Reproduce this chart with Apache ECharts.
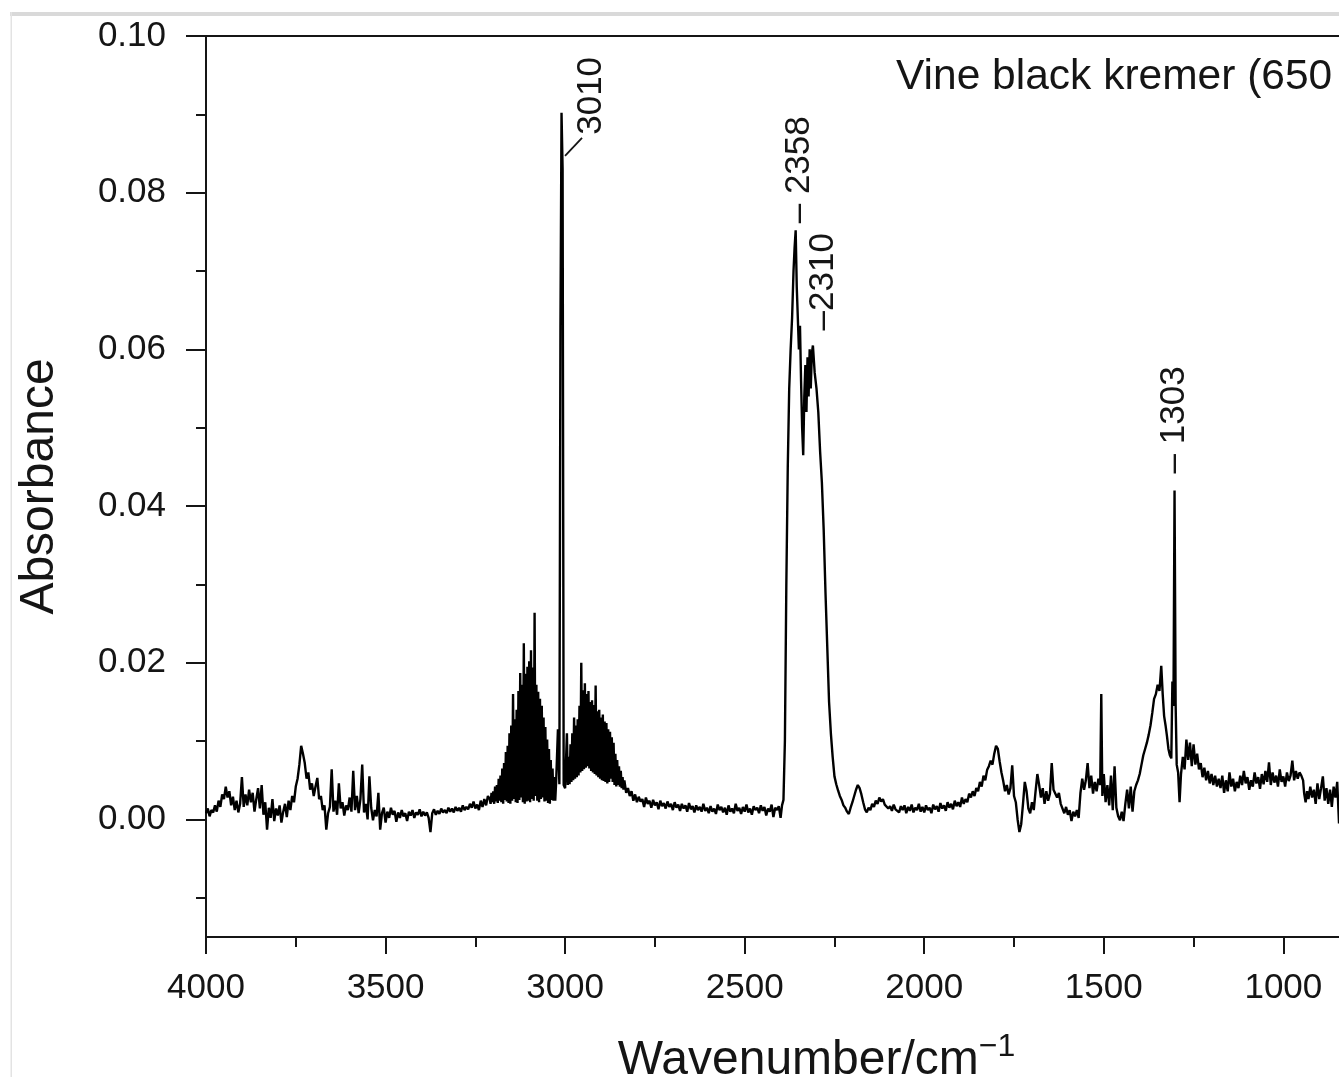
<!DOCTYPE html>
<html>
<head>
<meta charset="utf-8">
<script src="https://cdn.jsdelivr.net/npm/echarts@6/dist/echarts.min.js"></script>
<style>
  html, body { margin: 0; padding: 0; background: #fff; }
  #chart { width: 1339px; height: 1077px; }
</style>
</head>
<body>
<div id="chart"></div>
<script>
// FTIR absorbance spectrum. Each entry: [wavenumber / cm-1, absorbance in milli-absorbance units]

// O-H / water vapour region
const spectrumOH = [
  [4000,0.8],[3995,1.4],[3990,0.4],[3985,1.2],[3980,0.9],[3975,1.8],[3970,1.0],[3965,2.4],[3960,1.6],[3955,3.2],
  [3950,2.6],[3945,4.2],[3940,2.8],[3935,3.6],[3930,1.8],[3925,2.9],[3920,1.2],[3915,2.4],[3910,0.9],[3905,2.0],
  [3900,5.4],[3895,1.6],[3890,3.2],[3885,1.8],[3880,3.8],[3875,2.2],[3870,3.4],[3865,1.0],[3860,2.6],[3855,4.0],
  [3850,1.4],[3845,4.4],[3840,0.6],[3835,2.2],[3830,-1.3],[3825,1.5],[3820,0.2],[3815,2.6],[3810,-0.2],[3805,1.4],
  [3800,0.5],[3795,1.8],[3790,-0.4],[3785,1.0],[3780,2.0],[3775,0.3],[3770,2.4],[3765,1.2],[3760,3.0],[3755,2.2],
  [3750,4.2],[3745,5.2],[3740,7.0],[3735,9.4],[3730,8.4],[3725,7.2],[3720,5.2],[3715,6.0],[3710,3.8],[3705,4.6],
  [3700,3.0],[3695,4.2],[3690,5.3],[3685,2.6],[3680,3.0],[3675,1.2],[3670,1.8],[3665,-1.3],[3660,0.8],[3655,1.6],
  [3650,6.4],[3645,1.0],[3640,2.4],[3635,0.6],[3630,4.6],[3625,1.4],[3620,2.2],[3615,0.5],[3610,1.8],[3605,1.2],
  [3600,2.8],[3595,1.0],[3590,6.2],[3585,1.2],[3580,3.0],[3575,0.8],[3570,2.6],[3565,7.0],[3560,0.9],[3555,2.0],
  [3550,0.0],[3545,5.5],[3540,1.5],[3535,-0.1],[3530,1.2],[3525,0.4],[3520,3.4],[3515,-1.3],[3510,0.8],[3505,1.5],
  [3500,-0.4],[3495,1.0],[3490,0.2],[3485,1.5],[3480,0.6],[3475,1.1],[3470,-0.3],[3465,0.9],[3460,0.2],[3455,1.2],
  [3450,0.4],[3445,0.8],[3440,-0.2],[3435,1.0],[3430,0.5],[3425,1.2],[3420,0.2],[3415,0.9],[3410,0.6],[3405,1.3],
  [3400,0.4],[3395,1.0],[3390,0.5],[3385,0.9],[3380,0.2],[3375,-1.6],[3370,0.8],[3365,1.3],[3360,0.6],[3355,1.1],
  [3350,0.7],[3345,1.4],[3340,0.9],[3335,1.2],[3330,0.8],[3325,1.5],[3320,1.0],[3315,1.4],[3310,0.9],[3305,1.6],
  [3300,1.1],[3295,1.5],[3290,1.0],[3285,1.8],[3280,1.2],[3275,1.6],[3270,1.3],[3265,2.0],[3260,1.5],[3255,2.3],
  [3250,1.4],[3245,1.9],[3240,1.2],[3235,2.4],[3230,1.6],[3225,2.6],[3220,1.8],[3215,3.0]
];

// C-H stretching region (dense rotational lines) with the sharp 3010 band
const spectrumCH = [
  [3210,2.6],[3207.5,2.0],[3205,3.4],[3202.5,2.2],[3200,3.6],[3197.5,2.0],[3195,4.2],[3192.5,2.3],[3190,4.4],[3187.5,2.1],
  [3185,5.2],[3182.5,2.4],[3180,5.6],[3177.5,2.2],[3175,6.5],[3172.5,2.0],[3170,7.2],[3167.5,2.5],[3165,8.6],[3162.5,2.3],
  [3160,9.4],[3157.5,2.1],[3155,11.0],[3152.5,2.0],[3150,12.0],[3147.5,2.4],[3145,16.0],[3142.5,2.6],[3140,12.8],[3137.5,2.2],
  [3135,14.0],[3132.5,2.1],[3130,16.4],[3127.5,2.5],[3125,18.7],[3122.5,2.8],[3120,17.2],[3117.5,2.2],[3115,22.5],[3112.5,2.0],
  [3110,18.6],[3107.5,2.3],[3105,19.5],[3102.5,2.4],[3100,20.2],[3097.5,2.2],[3095,21.6],[3092.5,2.6],[3090,19.4],[3087.5,2.4],
  [3085,26.4],[3082.5,3.0],[3080,17.2],[3077.5,2.4],[3075,16.3],[3072.5,2.2],[3070,15.4],[3067.5,2.6],[3065,14.5],[3062.5,2.8],
  [3060,13.0],[3057.5,2.3],[3055,11.8],[3052.5,2.4],[3050,10.2],[3047.5,2.1],[3045,9.0],[3042.5,2.0],[3040,7.6],[3037.5,2.5],
  [3035,6.5],[3032.5,2.4],[3030,5.4],[3027.5,2.4],[3025,4.8],[3020,11.5],[3016,4.5],[3013,63.0],
  [3010,90.2],[3007,83.0],[3004,4.4],[3000,4.0],[2997.5,4.2],[2995,11.0],[2992.5,4.4],[2990,8.0],[2987.5,4.5],[2985,9.6],
  [2982.5,4.8],[2980,11.0],[2977.5,5.0],[2975,13.0],[2972.5,5.2],[2970,12.0],[2967.5,5.4],[2965,12.8],[2962.5,5.6],[2960,14.5],
  [2957.5,6.0],[2955,20.0],[2952.5,6.2],[2950,16.5],[2947.5,6.4],[2945,17.4],[2942.5,6.6],[2940,16.0],[2937.5,6.8],[2935,16.4],
  [2932.5,6.5],[2930,15.0],[2927.5,6.2],[2925,15.2],[2922.5,6.0],[2920,14.6],[2917.5,5.8],[2915,17.1],[2912.5,5.6],[2910,13.8],
  [2907.5,5.4],[2905,14.0],[2902.5,5.2],[2900,13.0],[2897.5,5.0],[2895,13.4],[2892.5,4.9],[2890,12.5],[2887.5,4.8],[2885,12.3],
  [2882.5,4.6],[2880,11.5],[2877.5,4.8],[2875,11.2],[2872.5,5.2],[2870,10.5],[2867.5,4.8],[2865,9.8],[2862.5,4.4],[2860,8.4],
  [2857.5,4.2],[2855,7.6],[2852.5,4.4],[2850,6.8],[2847.5,4.2],[2845,6.2],[2842.5,4.0],[2840,5.4],[2837.5,3.8],[2835,5.0],
  [2830,3.4],[2825,4.0],[2820,3.0],[2815,3.6],[2810,2.4],[2805,3.2],[2800,2.2],[2795,2.9],[2790,2.3],[2785,2.6],
  [2780,1.6],[2775,2.8],[2770,2.0],[2765,2.4],[2760,1.5]
];

// flat stretch between the C-H and CO2 bands
const spectrumMid = [
  [2755,2.5],[2750,1.8],[2745,2.2],[2740,1.3],[2735,2.4],[2730,1.7],[2725,2.1],[2720,1.4],[2715,2.3],[2710,1.6],
  [2705,2.0],[2700,1.2],[2695,2.2],[2690,1.5],[2685,1.9],[2680,1.1],[2675,2.0],[2670,1.4],[2665,1.8],[2660,1.0],
  [2655,2.1],[2650,1.3],[2645,1.7],[2640,0.9],[2635,1.8],[2630,1.2],[2625,1.6],[2620,1.0],[2615,2.0],[2610,1.1],
  [2605,1.5],[2600,0.8],[2595,1.7],[2590,1.0],[2585,1.4],[2580,0.7],[2575,1.9],[2570,1.2],[2565,1.6],[2560,0.9],
  [2555,1.5],[2550,0.6],[2545,1.8],[2540,1.0],[2535,1.4],[2530,0.8],[2525,2.0],[2520,1.1],[2515,1.5],[2510,0.7],
  [2505,1.6],[2500,1.0],[2495,1.9],[2490,0.9],[2485,1.4],[2480,0.6],[2475,1.7],[2470,1.2],[2465,1.5],[2460,0.8],
  [2455,1.8],[2450,1.1],[2445,1.6],[2440,0.5],[2435,1.4],[2430,1.0],[2425,1.9],[2420,0.3],[2415,1.5],[2410,1.2],
  [2405,1.7],[2400,0.2],[2396,1.8]
];

// CO2 doublet
const spectrumCO2 = [
  [2392,2.5],[2388,10.0],[2384,30.0],[2380,45.0],[2376,55.0],[2372,60.0],[2368,64.0],[2364,70.0],[2361,73.0],[2358,75.2],
  [2355,68.0],[2352,64.0],[2349,60.0],[2346,63.0],[2343,56.0],[2340,50.0],[2337,46.5],[2334,54.0],[2331,58.0],[2328,52.0],
  [2325,59.0],[2322,54.0],[2319,60.0],[2316,55.0],[2313,59.5],[2310,60.5],[2305,57.0],[2300,55.0],[2295,52.0],[2290,47.0],
  [2285,43.0],[2280,37.0],[2275,29.0],[2270,22.0],[2265,15.0],[2260,11.0],[2255,8.0],[2250,5.5],[2245,4.5],[2240,3.7],
  [2235,3.0],[2230,2.5],[2225,1.8],[2220,1.5]
];

// 2215 - 1820
const spectrumLow = [
  [2215,1.0],[2210,0.7],[2205,1.5],[2200,2.2],[2195,3.0],[2190,3.8],[2185,4.4],[2180,4.0],[2175,3.2],[2170,2.2],
  [2165,1.3],[2160,0.9],[2155,1.5],[2150,1.2],[2145,2.0],[2140,1.6],[2135,2.4],[2130,2.0],[2125,2.8],[2120,2.3],
  [2115,2.6],[2110,1.9],[2105,2.1],[2100,1.4],[2095,1.7],[2090,1.1],[2085,1.9],[2080,1.3],[2075,1.5],[2070,0.9],
  [2065,1.7],[2060,1.2],[2055,1.8],[2050,0.8],[2045,1.6],[2040,1.1],[2035,1.9],[2030,0.9],[2025,1.5],[2020,1.2],
  [2015,2.0],[2010,1.0],[2005,1.6],[2000,0.9],[1995,1.8],[1990,1.2],[1985,1.5],[1980,0.8],[1975,1.9],[1970,1.3],
  [1965,1.7],[1960,1.0],[1955,2.1],[1950,1.4],[1945,1.8],[1940,1.1],[1935,2.2],[1930,1.5],[1925,2.0],[1920,1.3],
  [1915,2.4],[1910,1.7],[1905,2.2],[1900,1.6],[1895,2.8],[1890,2.0],[1885,2.6],[1880,2.2],[1875,3.3],[1870,2.8],
  [1865,3.6],[1860,3.0],[1855,4.0],[1850,3.6],[1845,4.8],[1840,4.2],[1835,5.6],[1830,5.0],[1825,6.3],[1820,6.8]
];

// fingerprint region
const spectrumFinger = [
  [1815,7.5],[1810,7.0],[1805,8.4],[1800,9.4],[1795,9.0],[1790,7.4],[1785,6.0],[1780,4.9],[1775,3.6],[1770,4.4],
  [1765,3.2],[1760,4.0],[1755,6.9],[1750,3.0],[1745,2.2],[1740,0.0],[1735,-1.6],[1730,-0.6],[1725,2.0],[1720,4.8],
  [1715,3.6],[1710,1.4],[1705,0.8],[1700,2.2],[1695,1.2],[1690,3.6],[1685,5.8],[1680,4.4],[1675,2.8],[1670,4.0],
  [1665,2.0],[1660,3.6],[1655,2.4],[1650,3.3],[1645,7.2],[1640,3.8],[1635,4.0],[1630,2.8],[1625,3.4],[1620,2.0],
  [1615,2.2],[1610,0.8],[1605,1.6],[1600,0.6],[1595,1.2],[1590,-0.2],[1585,1.0],[1580,0.4],[1575,1.2],[1570,0.2],
  [1565,3.4],[1560,5.2],[1555,3.8],[1550,5.0],[1545,7.2],[1540,4.0],[1535,5.6],[1530,3.3],[1525,4.8],[1520,3.6],
  [1515,5.2],[1510,4.4],[1507,16.0],[1504,3.0],[1500,5.8],[1495,2.2],[1490,4.4],[1485,1.8],[1480,5.6],[1475,1.2],
  [1470,6.8],[1465,1.5],[1460,0.4],[1455,-0.1],[1450,1.0],[1445,-0.2],[1440,2.0],[1435,3.8],[1430,1.4],[1425,4.2],
  [1420,1.0],[1415,3.6],[1410,4.4],[1405,5.0],[1400,5.8],[1395,7.0],[1390,8.2],[1385,9.0],[1380,9.8],[1375,10.8],
  [1370,12.0],[1365,13.6],[1360,15.4],[1355,16.0],[1350,17.2],[1345,16.4],[1340,19.6],[1336,16.0],[1332,13.2],[1328,12.0],
  [1324,10.6],[1320,9.0],[1316,8.2],[1312,7.8],[1309,17.6],[1306,14.5],[1303,42.0],[1300,14.8],[1297,7.0],[1293,6.0],
  [1289,2.2],[1285,5.8],[1280,8.0],[1275,6.4],[1270,10.2],[1265,7.6],[1260,9.8],[1255,6.8],[1250,9.6],[1245,7.0],
  [1240,8.4],[1235,6.4],[1230,7.2],[1225,5.4],[1220,6.6],[1215,5.0],[1210,6.2],[1205,4.6],[1200,5.8],[1195,4.4],
  [1190,5.6],[1185,4.2],[1180,5.2],[1175,4.0],[1170,5.6],[1165,3.4],[1160,5.0],[1155,3.6],[1150,6.0],[1145,4.2],
  [1140,5.2],[1135,3.6],[1130,4.8],[1125,4.0],[1120,5.6],[1115,4.4],[1110,6.2],[1105,4.6],[1100,5.4],[1095,3.8],
  [1090,5.0],[1085,4.2],[1080,6.0],[1075,4.6],[1070,5.4],[1065,3.9],[1060,5.8],[1055,4.5],[1050,6.2],[1045,4.8],
  [1040,7.3],[1035,4.4],[1030,6.0],[1025,4.7],[1020,5.6],[1015,4.2],[1010,6.4],[1005,4.8],[1000,5.5],[995,4.2],
  [990,6.0],[985,4.9],[980,5.6],[975,7.5],[970,5.0],[965,6.2],[960,5.2],[955,6.0],[950,5.6],[945,5.0],
  [942,3.3],[938,2.2],[934,3.6],[930,2.6],[925,4.2],[920,2.8],[915,3.8],[910,2.0],[905,4.6],[900,2.6],
  [895,4.0],[890,5.5],[885,2.4],[880,4.0],[875,2.0],[870,3.8],[865,1.6],[860,4.2],[855,2.8],[850,4.8],
  [845,-0.5],[840,3.6],[835,2.6],[830,3.4]
];

// annotated band positions (cm-1)
const peakWavenumbers = [3010, 2358, 2310, 1303];

// axis ticks
const xTickValues = [4000, 3500, 3000, 2500, 2000, 1500, 1000];
const xMinorTickValues = [3750, 3250, 2750, 2250, 1750, 1250, 750];
const yTickValues = [0, 0.02, 0.04, 0.06, 0.08, 0.10];
const yMinorTickValues = [-0.01, 0.01, 0.03, 0.05, 0.07, 0.09];

const sampleName = 'Vine black kremer (650 °C)';

// ---------------------------------------------------------------------------
const FONT = '"Liberation Sans", Arial, Helvetica, sans-serif';
const INK = '#151515';
const X_MIN = 600, X_MAX = 4000, Y_MIN = -0.015, Y_MAX = 0.10;

const spectrum = [].concat(spectrumOH, spectrumCH, spectrumMid, spectrumCO2, spectrumLow, spectrumFinger)
  .map(([wn, mAbs]) => [wn, mAbs / 1000]);

const chart = echarts.init(document.getElementById('chart'), null, { renderer: 'canvas', width: 1339, height: 1077 });

const tickLine = { color: INK, width: 2 };

chart.setOption({
  animation: false,
  backgroundColor: '#ffffff',
  grid: {
    left: 206, top: 36, width: 1221, height: 901,
    show: true, borderColor: INK, borderWidth: 2, backgroundColor: 'transparent',
    outerBoundsMode: 'none', containLabel: false
  },
  xAxis: [
    {
      type: 'value', min: X_MIN, max: X_MAX, inverse: true, position: 'bottom',
      axisLine: { show: true, onZero: false, lineStyle: tickLine },
      axisTick: { show: true, inside: false, length: 17, customValues: xTickValues, lineStyle: tickLine },
      axisLabel: {
        customValues: xTickValues, margin: 34, fontSize: 35, color: INK, fontFamily: FONT,
        formatter: v => String(v)
      },
      splitLine: { show: false },
      name: 'Wavenumber/cm{sup|−1}',
      nameLocation: 'middle', nameGap: 94,
      nameTextStyle: {
        fontSize: 48, lineHeight: 60, color: INK, fontFamily: FONT,
        rich: { sup: { fontSize: 32, lineHeight: 32, color: INK, fontFamily: FONT, verticalAlign: 'top' } }
      }
    },
    {
      type: 'value', min: X_MIN, max: X_MAX, inverse: true, position: 'bottom',
      axisLine: { show: false, onZero: false },
      axisTick: { show: true, inside: false, length: 10, customValues: xMinorTickValues, lineStyle: tickLine },
      axisLabel: { show: false },
      splitLine: { show: false }
    }
  ],
  yAxis: [
    {
      type: 'value', min: Y_MIN, max: Y_MAX, position: 'left',
      axisLine: { show: true, onZero: false, lineStyle: tickLine },
      axisTick: { show: true, inside: false, length: 20, customValues: yTickValues, lineStyle: tickLine },
      axisLabel: {
        customValues: yTickValues, margin: 40, fontSize: 35, color: INK, fontFamily: FONT,
        formatter: v => v.toFixed(2)
      },
      splitLine: { show: false },
      name: 'Absorbance', nameLocation: 'middle', nameGap: 142, nameRotate: 90,
      nameTextStyle: { fontSize: 48, color: INK, fontFamily: FONT }
    },
    {
      type: 'value', min: Y_MIN, max: Y_MAX, position: 'left',
      axisLine: { show: false, onZero: false },
      axisTick: { show: true, inside: false, length: 10, customValues: yMinorTickValues, lineStyle: tickLine },
      axisLabel: { show: false },
      splitLine: { show: false }
    }
  ],
  series: [
    {
      type: 'line', xAxisIndex: 0, yAxisIndex: 0,
      data: spectrum, showSymbol: false, symbol: 'none', clip: true,
      lineStyle: { color: '#000', width: 2.4 },
      z: 3
    }
  ]
});

// band annotations: rotated labels placed relative to each band maximum
const peakLabelStyle = {
  3010: { prefix: '', dx: 30, dy: 22, leader: [[3.5, 43], [20.5, 25]] },
  2358: { prefix: '– ', dx: 4, dy: -7 },
  2310: { prefix: '–', dx: 10, dy: -15 },
  1303: { prefix: '– ', dx: 0, dy: -17 }
};

const annotations = [];
peakWavenumbers.forEach(wn => {
  const point = spectrum.find(p => p[0] === wn);
  const [px, py] = chart.convertToPixel({ xAxisIndex: 0, yAxisIndex: 0 }, point);
  const s = peakLabelStyle[wn];
  annotations.push({
    type: 'text', x: px + s.dx, y: py + s.dy, rotation: Math.PI / 2, z: 10,
    style: { text: s.prefix + wn, fontSize: 35, fontFamily: FONT, fill: INK, align: 'left', verticalAlign: 'middle' }
  });
  if (s.leader) {
    annotations.push({
      type: 'line', z: 10,
      shape: { x1: px + s.leader[0][0], y1: py + s.leader[0][1], x2: px + s.leader[1][0], y2: py + s.leader[1][1] },
      style: { stroke: INK, lineWidth: 1.8 }
    });
  }
});

chart.setOption({
  graphic: [
    // light page frame around the figure
    { type: 'rect', z: 0, shape: { x: 10, y: 12, width: 1329, height: 4 }, style: { fill: '#d9d9d9' } },
    { type: 'rect', z: 0, shape: { x: 10.5, y: 12, width: 1.5, height: 1065 }, style: { fill: '#e3e3e3' } },
    // sample name
    { type: 'text', x: 896, y: 77, z: 10,
      style: { text: sampleName, fontSize: 42.5, fontFamily: FONT, fill: INK, align: 'left', verticalAlign: 'middle' } }
  ].concat(annotations)
});
</script>
</body>
</html>
